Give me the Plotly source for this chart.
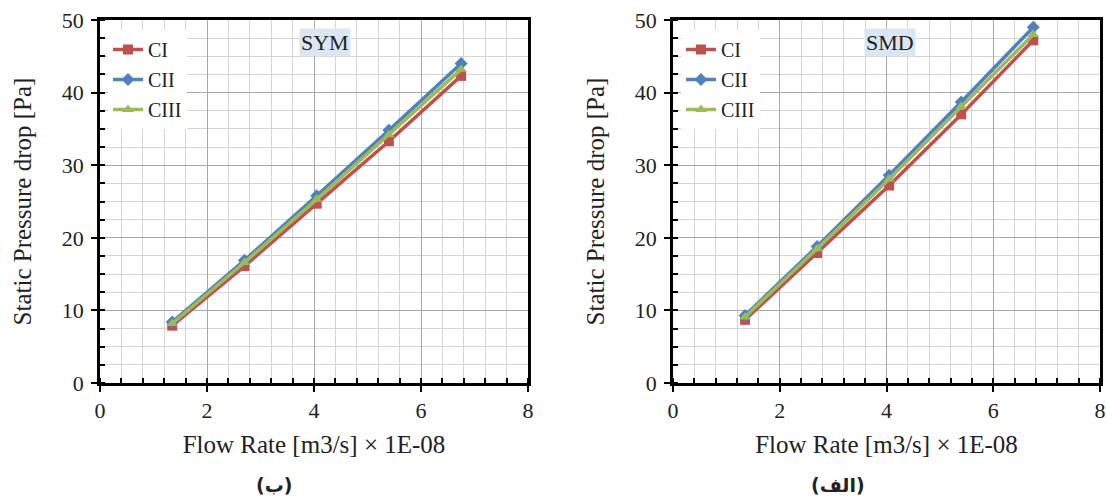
import plotly.graph_objects as go

flow = [1.35, 2.7, 4.05, 5.4, 6.75]
series_names = ["CI", "CII", "CIII"]
sym_CI = [7.9, 16.1, 24.7, 33.3, 42.3]
sym_CII = [8.4, 16.9, 25.8, 34.8, 44.0]
sym_CIII = [8.2, 16.6, 25.3, 34.2, 43.2]
smd_CI = [8.7, 17.9, 27.2, 37.0, 47.2]
smd_CII = [9.3, 18.8, 28.6, 38.7, 49.0]
smd_CIII = [9.1, 18.5, 28.1, 38.1, 48.0]
x_ticks = [0, 2, 4, 6, 8]
y_ticks = [0, 10, 20, 30, 40, 50]
panel_titles = ["SYM", "SMD"]
panel_labels = ["(ب)", "(الف)"]
x_title = "Flow Rate [m3/s] × 1E-08"
y_title = "Static Pressure drop [Pa]"

colors = ["#c0504d", "#4f81bd", "#9bbb59"]
symbols = ["square", "diamond", "triangle-up"]
font = "Liberation Serif, Times New Roman, serif"

fig = go.Figure()
panels = [(sym_CI, sym_CII, sym_CIII), (smd_CI, smd_CII, smd_CIII)]
for p, data in enumerate(panels):
    xa = "x" if p == 0 else "x2"
    ya = "y" if p == 0 else "y2"
    for i, vals in enumerate(data):
        fig.add_trace(go.Scatter(
            x=flow, y=vals, mode="lines+markers", name=series_names[i],
            legendgroup=f"{p}_{i}",
            line=dict(color=colors[i], width=3.5),
            marker=dict(symbol=symbols[i], size=10, color=colors[i]),
            xaxis=xa, yaxis=ya, legend="legend" if p == 0 else "legend2",
        ))

ax_common = dict(
    showline=True, linecolor="black", linewidth=2.5, mirror=True,
    showgrid=True, gridcolor="#a8a8a8", gridwidth=1,
    ticks="outside", ticklen=6, tickcolor="black", tickwidth=2,
    tickfont=dict(family=font, size=22, color="#222"),
    zeroline=False, automargin=False,
)
xdoms = [[100/1106, 528/1106], [673/1106, 1100/1106]]
ydom = [1 - 383/497, 1 - 20/497]
layout = dict(
    width=1106, height=497, margin=dict(l=0, r=0, t=0, b=0),
    plot_bgcolor="white", paper_bgcolor="white",
    font=dict(family=font, size=20, color="#222"),
)
for p in range(2):
    xk = "xaxis" if p == 0 else "xaxis2"
    yk = "yaxis" if p == 0 else "yaxis2"
    layout[xk] = dict(ax_common, domain=xdoms[p], range=[0, 8], tickvals=x_ticks,
                      minor=dict(dtick=0.4, showgrid=True, gridcolor="#d4d4d4",
                                 ticks="inside", ticklen=5, tickcolor="black", tickwidth=1.5),
                      title=dict(text=x_title, font=dict(family=font, size=25), standoff=14),
                      anchor="y" if p == 0 else "y2")
    layout[yk] = dict(ax_common, domain=ydom, range=[0, 50], tickvals=y_ticks,
                      ticklabelstandoff=3,
                      minor=dict(dtick=2.5, showgrid=True, gridcolor="#d4d4d4",
                                 ticks="inside", ticklen=5, tickcolor="black", tickwidth=1.5),
                      title=dict(text=y_title, font=dict(family=font, size=25), standoff=24),
                      anchor="x" if p == 0 else "x2")
fig.update_layout(**layout)

legend_common = dict(bgcolor="white", font=dict(family=font, size=20, color="#222"),
                     xanchor="left", yanchor="top", tracegroupgap=1,
                     itemwidth=30, borderwidth=0)
fig.update_layout(
    legend=dict(legend_common, x=108/1106, y=1 - 30/497),
    legend2=dict(legend_common, x=681/1106, y=1 - 30/497),
)

title_x = [325, 890]
label_x = [274, 838]
for p in range(2):
    fig.add_annotation(text=panel_titles[p], xref="paper", yref="paper",
                       x=title_x[p]/1106, y=1 - 42/497, showarrow=False,
                       xanchor="center", yanchor="middle",
                       bgcolor="#dce6f2", font=dict(family=font, size=22, color="#222"),
                       borderpad=1)
    fig.add_annotation(text="<b>" + panel_labels[p] + "</b>", xref="paper", yref="paper",
                       x=label_x[p]/1106, y=1 - 485/497, showarrow=False,
                       xanchor="center", yanchor="middle",
                       font=dict(family="DejaVu Sans, Noto Sans", size=19, color="#222"))

fig.write_html("out.html")
